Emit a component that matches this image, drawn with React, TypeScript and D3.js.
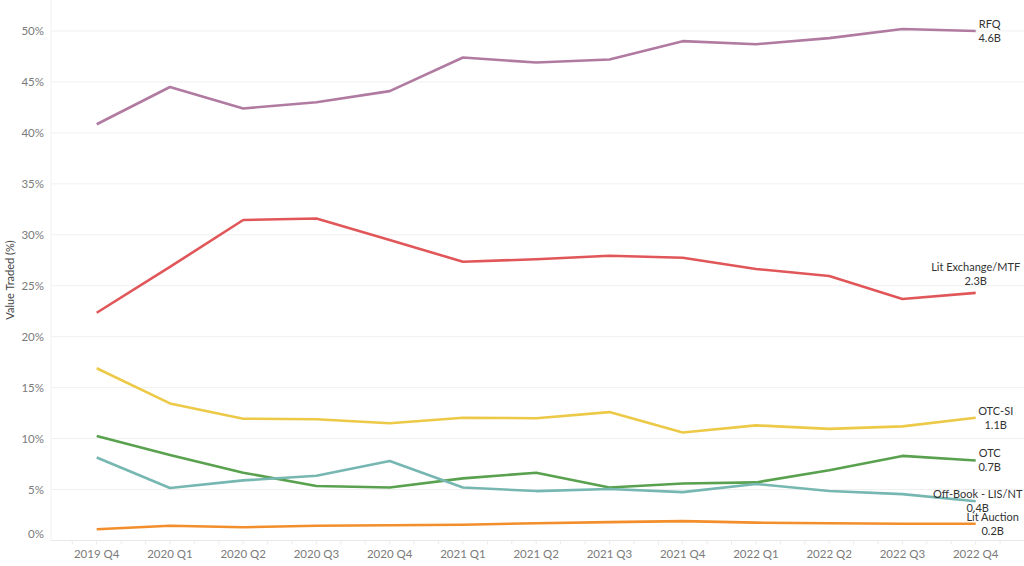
import { useEffect, useRef } from "react";
import * as d3 from "d3";

// quarters on the x axis
const quarters = [
    "2019 Q4", "2020 Q1", "2020 Q2", "2020 Q3", "2020 Q4",
    "2021 Q1", "2021 Q2", "2021 Q3", "2021 Q4",
    "2022 Q1", "2022 Q2", "2022 Q3", "2022 Q4"
];

// share of value traded (%) per venue type
const rfq = [40.85, 44.5, 42.4, 43.0, 44.1, 47.4, 46.9, 47.2, 49.0, 48.7, 49.3, 50.2, 50.0];
const litExchange = [22.35, 26.85, 31.45, 31.6, 29.5, 27.35, 27.6, 27.95, 27.75, 26.65, 25.95, 23.7, 24.3];
const otcSi = [16.9, 13.45, 11.95, 11.9, 11.5, 12.05, 12.0, 12.6, 10.6, 11.3, 10.95, 11.2, 12.05];
const otc = [10.25, 8.4, 6.65, 5.35, 5.2, 6.1, 6.65, 5.2, 5.6, 5.7, 6.9, 8.3, 7.85];
const offBook = [8.15, 5.15, 5.9, 6.35, 7.8, 5.2, 4.85, 5.05, 4.75, 5.55, 4.85, 4.55, 3.85];
const litAuction = [1.1, 1.45, 1.3, 1.45, 1.5, 1.55, 1.7, 1.8, 1.9, 1.75, 1.7, 1.65, 1.65];

const seriesNames = ["RFQ", "Lit Exchange/MTF", "OTC-SI", "OTC", "Off-Book - LIS/NT", "Lit Auction"];
const seriesTotals = ["4.6B", "2.3B", "1.1B", "0.7B", "0.4B", "0.2B"];
const seriesValues = [rfq, litExchange, otcSi, otc, offBook, litAuction];

const yTicks = [0, 5, 10, 15, 20, 25, 30, 35, 40, 45, 50];

const colors = ["#b07aa1", "#e15759", "#edc948", "#59a14f", "#76b7b2", "#f28e2b"];
// end label placement relative to the last point (centre of the label block)
const labelOffsets = [
    { dx: 14, dy: 0 },
    { dx: 0, dy: -19 },
    { dx: 20, dy: 0 },
    { dx: 14, dy: 0 },
    { dx: 2, dy: 0 },
    { dx: 17, dy: 0 }
];

const App = () => {
    const ref = useRef<SVGSVGElement | null>(null);

    useEffect(() => {
        if (!ref.current) return;
        document.body.style.margin = "0";

        const width = 1024;
        const height = 566;
        const font = "Lato, 'Open Sans', sans-serif";

        const svg = d3.select(ref.current);
        svg.selectAll("*").remove();
        svg.attr("width", width).attr("height", height).style("font-family", font);

        const plotLeft = 51;
        const plotBottom = 540.5;

        const x = d3.scalePoint<string>()
            .domain(quarters)
            .range([96.7, 975.7]);

        const y = d3.scaleLinear()
            .domain([0, 53.04])
            .range([plotBottom, 0]);

        // gridlines
        svg.append("g")
            .selectAll("line")
            .data(yTicks.filter(d => d > 0))
            .enter().append("line")
            .attr("x1", plotLeft)
            .attr("x2", width)
            .attr("y1", d => y(d))
            .attr("y2", d => y(d))
            .attr("stroke", "#f0f0f0")
            .attr("stroke-width", 1);

        // axis lines
        svg.append("line")
            .attr("x1", plotLeft).attr("x2", width)
            .attr("y1", plotBottom).attr("y2", plotBottom)
            .attr("stroke", "#e8e8e8");
        svg.append("line")
            .attr("x1", plotLeft).attr("x2", plotLeft)
            .attr("y1", 0).attr("y2", plotBottom)
            .attr("stroke", "#f0f0f0");

        // monthly tick marks on the date axis
        const step = x.step();
        const minor = d3.range(-3, 39).map(i => (x(quarters[0]) as number) + (i * step) / 3)
            .filter(v => v > plotLeft && v < width);
        svg.append("g")
            .selectAll("line")
            .data(minor)
            .enter().append("line")
            .attr("x1", d => d).attr("x2", d => d)
            .attr("y1", plotBottom).attr("y2", plotBottom + 4)
            .attr("stroke", "#ececec");

        // y tick labels
        svg.append("g")
            .selectAll("text")
            .data(yTicks)
            .enter().append("text")
            .attr("x", 44)
            .attr("y", d => (d === 0 ? y(d) - 7 : y(d)))
            .attr("dy", "0.35em")
            .attr("text-anchor", "end")
            .attr("font-size", 11.5)
            .attr("fill", "#7b7b7b")
            .text(d => `${d}%`);

        // x tick labels
        svg.append("g")
            .selectAll("text")
            .data(quarters)
            .enter().append("text")
            .attr("x", d => x(d) as number)
            .attr("y", 554)
            .attr("dy", "0.35em")
            .attr("text-anchor", "middle")
            .attr("font-size", 11.5)
            .attr("fill", "#7b7b7b")
            .text(d => d);

        // y axis title
        svg.append("text")
            .attr("transform", `translate(14,280) rotate(-90)`)
            .attr("text-anchor", "middle")
            .attr("font-size", 11)
            .attr("fill", "#444")
            .text("Value Traded (%)");

        // lines
        const line = d3.line<number>()
            .x((_, i) => x(quarters[i]) as number)
            .y(d => y(d));

        svg.append("g")
            .selectAll("path")
            .data(seriesValues)
            .enter().append("path")
            .attr("d", d => line(d))
            .attr("fill", "none")
            .attr("stroke", (_, i) => colors[i])
            .attr("stroke-width", 2.6)
            .attr("stroke-linejoin", "round");

        // end labels
        const labels = svg.append("g")
            .selectAll("text")
            .data(seriesValues)
            .enter().append("text")
            .attr("text-anchor", "middle")
            .attr("font-size", 11)
            .attr("fill", "#333");

        labels.each(function (d, i) {
            const cx = (x(quarters[quarters.length - 1]) as number) + labelOffsets[i].dx;
            const cy = y(d[d.length - 1]) + labelOffsets[i].dy;
            const t = d3.select(this);
            t.append("tspan").attr("x", cx).attr("y", cy - 7).attr("dy", "0.35em").text(seriesNames[i]);
            t.append("tspan").attr("x", cx).attr("y", cy + 7).attr("dy", "0.35em").text(seriesTotals[i]);
        });
    }, []);

    return <svg ref={ref} style={{ display: "block" }}></svg>;
};

export default App;
